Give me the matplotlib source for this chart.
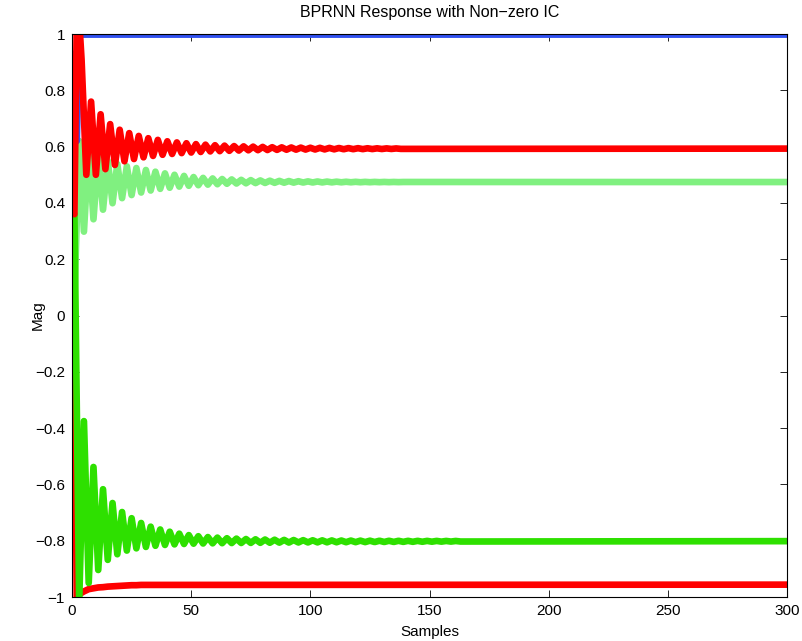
import matplotlib
matplotlib.use('Agg')
import matplotlib.pyplot as plt

plt.rcParams['font.family'] = ['Liberation Sans', 'DejaVu Sans']

# blue state: start, dip, then settles at the top
blue_x = [1, 2, 3, 300]
blue_y = [0.93, 0.62, 0.998, 0.998]

# red (upper): start points, then peaks (every 4 samples) and troughs
red_top_start_x = [1, 2, 3, 4]
red_top_start_y = [0.36, 1.05, 1.05, 0.91]
red_top_peak_x = list(range(8, 137, 4))
red_top_peak_y = [0.76, 0.715, 0.68, 0.66, 0.648, 0.638, 0.630, 0.624, 0.619, 0.615,
                  0.612, 0.609, 0.607, 0.605, 0.6035, 0.602, 0.601, 0.600, 0.599, 0.598,
                  0.5975, 0.597, 0.5965, 0.596, 0.5957, 0.5954, 0.5951, 0.5948, 0.5945,
                  0.5942, 0.594, 0.5938, 0.5936]
red_top_trough_x = list(range(6, 139, 4))
red_top_trough_y = [0.50, 0.50, 0.52, 0.535, 0.548, 0.556, 0.562, 0.567, 0.571, 0.574,
                    0.577, 0.579, 0.581, 0.583, 0.584, 0.585, 0.586, 0.587, 0.5875, 0.588,
                    0.5885, 0.589, 0.5893, 0.5896, 0.5899, 0.5902, 0.5905, 0.5908, 0.591,
                    0.5912, 0.5914, 0.5916, 0.5918, 0.592]
red_top_end = 0.593

# light green: peaks and troughs
lgreen_start_y = 0.06
lgreen_peak_x = list(range(3, 140, 4))
lgreen_peak_y = [0.62, 0.60, 0.57, 0.55, 0.538, 0.53, 0.524, 0.517, 0.511, 0.505,
                 0.50, 0.496, 0.492, 0.489, 0.487, 0.485, 0.4835, 0.482, 0.481, 0.480,
                 0.479, 0.4783, 0.4777, 0.4771, 0.4766, 0.4762, 0.4758, 0.4755, 0.4752,
                 0.475, 0.4748, 0.4747, 0.4746, 0.4745, 0.4744]
lgreen_trough_x = list(range(5, 138, 4))
lgreen_trough_y = [0.298, 0.342, 0.376, 0.399, 0.417, 0.428, 0.437, 0.444, 0.450, 0.454,
                   0.458, 0.461, 0.463, 0.465, 0.4665, 0.468, 0.469, 0.4698, 0.4705, 0.471,
                   0.4715, 0.4719, 0.4722, 0.4725, 0.4727, 0.4729, 0.4731, 0.4733, 0.4734,
                   0.4735, 0.4736, 0.4737, 0.4738, 0.4739]
lgreen_end = 0.4742

# green (lower): peaks and troughs
green_start_y = 0.36
green_peak_x = list(range(5, 162, 4))
green_peak_y = [-0.375, -0.538, -0.617, -0.666, -0.698, -0.72, -0.737, -0.75, -0.76,
                -0.768, -0.775, -0.78, -0.784, -0.787, -0.789, -0.791, -0.7925, -0.794,
                -0.795, -0.7958, -0.7965, -0.797, -0.7975, -0.798, -0.7984, -0.7987,
                -0.799, -0.7993, -0.7995, -0.7997, -0.7999, -0.8001, -0.8002, -0.8003,
                -0.8004, -0.8005, -0.8006, -0.8007, -0.8008, -0.8009]
green_trough_x = list(range(3, 164, 4))
green_trough_y = [-1.02, -0.95, -0.904, -0.868, -0.848, -0.835, -0.827, -0.822, -0.818,
                  -0.815, -0.813, -0.8115, -0.8105, -0.8098, -0.8092, -0.8087, -0.8083,
                  -0.808, -0.8077, -0.8074, -0.8071, -0.8068, -0.8065, -0.8062, -0.806,
                  -0.8058, -0.8056, -0.8054, -0.8052, -0.805, -0.8048, -0.8046, -0.8044,
                  -0.8042, -0.804, -0.8038, -0.8036, -0.8034, -0.8032, -0.803, -0.8028]
green_end = -0.8015

red_bot_x = [1, 2, 3, 5, 7, 9, 11, 13, 15, 17, 19, 21, 23, 25, 27, 29, 31, 300]
red_bot_y = [0.05, -1.03, -0.99, -0.98, -0.972, -0.969, -0.966, -0.965, -0.963, -0.962,
             -0.961, -0.960, -0.959, -0.958, -0.958, -0.957, -0.957, -0.956]

x_ticks = [0, 50, 100, 150, 200, 250, 300]
y_ticks = [-1, -0.8, -0.6, -0.4, -0.2, 0, 0.2, 0.4, 0.6, 0.8, 1]
y_labels = ['\u22121', '\u22120.8', '\u22120.6', '\u22120.4', '\u22120.2', '0',
            '0.2', '0.4', '0.6', '0.8', '1']


def merge(pts):
    # join lists of (x, y) points and sort them along the sample axis
    pts = sorted(pts)
    return [p[0] for p in pts], [p[1] for p in pts]


red_top_x, red_top_y = merge(list(zip(red_top_start_x, red_top_start_y))
                             + list(zip(red_top_peak_x, red_top_peak_y))
                             + list(zip(red_top_trough_x, red_top_trough_y))
                             + [(300, red_top_end)])
lgreen_x, lgreen_y = merge([(1, lgreen_start_y)]
                           + list(zip(lgreen_peak_x, lgreen_peak_y))
                           + list(zip(lgreen_trough_x, lgreen_trough_y))
                           + [(300, lgreen_end)])
green_x, green_y = merge([(1, green_start_y)]
                         + list(zip(green_peak_x, green_peak_y))
                         + list(zip(green_trough_x, green_trough_y))
                         + [(300, green_end)])

fig = plt.figure(figsize=(8.02, 6.41), dpi=100)
ax = fig.add_axes([0.0898, 0.0686, 0.8915, 0.8783])

kw = dict(lw=4.8, solid_joinstyle='round', solid_capstyle='round')
ax.plot(red_bot_x, red_bot_y, color='#ff0000', **kw)
ax.plot(lgreen_x, lgreen_y, color='#80f080', **kw)
ax.plot(green_x, green_y, color='#2ee000', **kw)
ax.plot(blue_x, blue_y, color='#3050f0', **kw)
ax.plot(red_top_x, red_top_y, color='#ff0000', **kw)

ax.set_xlim(0, 300)
ax.set_ylim(-1, 1)
ax.set_xticks(x_ticks)
ax.set_xticklabels([str(t) for t in x_ticks])
ax.set_yticks(y_ticks)
ax.set_yticklabels(y_labels)
ax.tick_params(direction='in', top=True, right=True, length=5, width=0.6,
               labelsize=11, pad=5)
for s in ax.spines.values():
    s.set_linewidth(0.8)

ax.set_title('BPRNN Response with Non\u2212zero IC', fontsize=11.5, pad=12)
ax.set_xlabel('Samples', fontsize=11, labelpad=5)
ax.set_ylabel('Mag', fontsize=11)
ax.yaxis.set_label_coords(-0.038, 0.5)

fig.savefig('out.png', dpi=100)
